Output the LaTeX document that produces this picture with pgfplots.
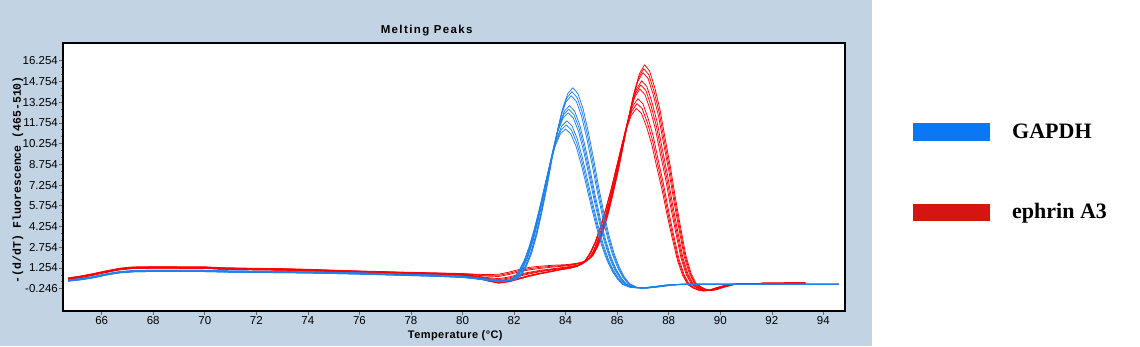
\documentclass[border=0pt]{standalone}
\usepackage{fontspec}
\setmainfont{Liberation Sans}
\newfontfamily\titlefont[LetterSpace=12]{Liberation Sans}
\newfontfamily\xlabfont[LetterSpace=4]{Liberation Sans}
\newfontfamily\ylabfont{Liberation Mono}
\newfontfamily\legfont{Liberation Serif}
\usepackage{pgfplots}
\pgfplotsset{compat=1.18}

\definecolor{panel}{RGB}{194,212,228}
\definecolor{gline}{RGB}{28,128,240}
\definecolor{rline}{RGB}{255,0,0}
\definecolor{gleg}{RGB}{10,120,245}
\definecolor{rleg}{RGB}{215,20,20}

\begin{document}
\begin{tikzpicture}[x=1pt,y=1pt]
\useasboundingbox (0,0) rectangle (1140,346);
\fill[panel] (0,0) rectangle (872,346);

\begin{axis}[
    at={(63pt,35pt)}, anchor=south west,
    scale only axis, width=782pt, height=268pt,
    xmin=64.5, xmax=94.84,
    ymin=-1.86, ymax=17.535,
    axis background/.style={fill=white},
    axis line style={line width=1.2pt, black},
    xtick={66,68,70,72,74,76,78,80,82,84,86,88,90,92,94},
    xticklabels={66,68,70,72,74,76,78,80,82,84,86,88,90,92,94},
    ytick={-0.246,1.254,2.754,4.254,5.754,7.254,8.754,10.254,11.754,13.254,14.754,16.254},
    yticklabels={-0.246,1.254,2.754,4.254,5.754,7.254,8.754,10.254,11.754,13.254,14.754,16.254},
    minor y tick num=2,
    tick align=outside, tick pos=left,
    major tick length=4pt, minor tick length=2.5pt,
    every tick/.style={black!60, line width=0.6pt},
    ticklabel style={font=\fontsize{11.5}{12}\selectfont, text=black},
    /pgf/number format/assume math mode=true,
    yticklabel style={inner sep=1pt},
    xticklabel style={inner sep=1.5pt},
    every axis plot/.append style={line width=0.75pt, line join=round},
]
% ephrin A3
\addplot[rline] coordinates {(64.7,0.54)(65.2,0.68)(65.7,0.86)(66.2,1.06)(66.7,1.24)(67.2,1.33)(68,1.35)(70,1.34)(70.6,1.28)(72,1.23)(73,1.21)(74,1.16)(76,1.04)(78,0.94)(79,0.90)
 (80,0.85)(80.5,0.8)(81,0.78)(81.4,0.8)(81.8,0.95)(82.2,1.15)(82.6,1.3)(83,1.38)(83.5,1.45)
 (84.06,1.5)(84.46,1.6)(84.76,1.75)(85.06,2.15)(85.26,2.85)(85.46,3.88)(85.66,5.21)(85.86,6.76)(86.06,8.42)(86.26,10.3)(86.46,12.19)(86.66,13.96)(86.86,15.29)(87.06,15.96)(87.26,15.51)(87.46,14.29)(87.66,12.74)(87.86,10.64)(88.06,8.64)(88.26,6.32)(88.46,4.21)(88.66,2.2)(88.86,0.9)(89.06,0.15)(89.26,-0.12)(89.46,-0.3)(89.66,-0.36)(89.86,-0.31)(90.16,-0.13)(90.56,0.06)(91.06,0.12)(92,0.15)(93.3,0.17)};
\addplot[rline] coordinates {(64.7,0.51)(65.2,0.65)(65.7,0.83)(66.2,1.03)(66.7,1.21)(67.2,1.30)(68,1.32)(70,1.31)(70.6,1.25)(72,1.20)(73,1.18)(74,1.13)(76,1.01)(78,0.91)(79,0.87)
 (80,0.835)(80.5,0.77)(81,0.72)(81.4,0.72)(81.8,0.865)(82.2,1.065)(82.6,1.21)(83,1.3)(83.5,1.385)
 (84.03,1.45)(84.43,1.56)(84.73,1.705)(85.03,2.1)(85.23,2.785)(85.43,3.81)(85.63,5.115)(85.83,6.64)(86.03,8.27)(86.23,10.12)(86.43,11.975)(86.63,13.715)(86.83,15.02)(87.03,15.675)(87.23,15.24)(87.43,14.04)(87.63,12.515)(87.83,10.45)(88.03,8.49)(88.23,6.205)(88.43,4.135)(88.63,2.15)(88.83,0.875)(89.03,0.135)(89.23,-0.13)(89.43,-0.305)(89.63,-0.365)(89.83,-0.315)(90.13,-0.135)(90.53,0.055)(91.03,0.12)(92,0.15)(93.3,0.17)};
\addplot[rline] coordinates {(64.7,0.51)(65.2,0.65)(65.7,0.83)(66.2,1.03)(66.7,1.21)(67.2,1.30)(68,1.32)(70,1.31)(70.6,1.25)(72,1.20)(73,1.18)(74,1.13)(76,1.01)(78,0.91)(79,0.87)
 (80,0.82)(80.5,0.74)(81,0.66)(81.4,0.64)(81.8,0.78)(82.2,0.98)(82.6,1.12)(83,1.22)(83.5,1.32)
 (84,1.4)(84.4,1.52)(84.7,1.66)(85,2.05)(85.2,2.72)(85.4,3.74)(85.6,5.02)(85.8,6.52)(86,8.12)(86.2,9.94)(86.4,11.76)(86.6,13.47)(86.8,14.75)(87,15.39)(87.2,14.97)(87.4,13.79)(87.6,12.29)(87.8,10.26)(88,8.34)(88.2,6.09)(88.4,4.06)(88.6,2.1)(88.8,0.85)(89,0.12)(89.2,-0.14)(89.4,-0.31)(89.6,-0.37)(89.8,-0.32)(90.1,-0.14)(90.5,0.05)(91,0.12)(92,0.15)(93.3,0.17)};
\addplot[rline] coordinates {(64.7,0.48)(65.2,0.62)(65.7,0.80)(66.2,1.00)(66.7,1.18)(67.2,1.27)(68,1.29)(70,1.28)(70.6,1.22)(72,1.17)(73,1.15)(74,1.10)(76,0.98)(78,0.88)(79,0.84)
 (80,0.78)(80.5,0.68)(81,0.55)(81.4,0.48)(81.8,0.6)(82.2,0.8)(82.6,0.95)(83,1.08)(83.5,1.2)
 (83.95,1.3)(84.35,1.42)(84.65,1.55)(84.95,1.95)(85.15,2.6)(85.35,3.6)(85.55,4.83)(85.75,6.27)(85.95,7.81)(86.15,9.56)(86.35,11.31)(86.55,12.95)(86.75,14.19)(86.95,14.8)(87.15,14.39)(87.35,13.26)(87.55,11.82)(87.75,9.87)(87.95,8.02)(88.15,5.86)(88.35,3.91)(88.55,2.0)(88.75,0.8)(88.95,0.1)(89.15,-0.15)(89.35,-0.32)(89.55,-0.38)(89.75,-0.33)(90.05,-0.15)(90.45,0.05)(90.95,0.12)(92,0.15)(93.3,0.17)};
\addplot[rline] coordinates {(64.7,0.46)(65.2,0.60)(65.7,0.78)(66.2,0.98)(66.7,1.16)(67.2,1.25)(68,1.27)(70,1.26)(70.6,1.20)(72,1.15)(73,1.13)(74,1.08)(76,0.96)(78,0.86)(79,0.82)
 (80,0.77)(80.5,0.65)(81,0.495)(81.4,0.41)(81.8,0.525)(82.2,0.73)(82.6,0.89)(83,1.03)(83.5,1.16)
 (83.915,1.26)(84.315,1.38)(84.615,1.515)(84.915,1.915)(85.115,2.55)(85.315,3.525)(85.515,4.73)(85.715,6.14)(85.915,7.65)(86.115,9.365)(86.315,11.08)(86.515,12.685)(86.715,13.9)(86.915,14.5)(87.115,14.095)(87.315,12.99)(87.515,11.58)(87.715,9.67)(87.915,7.855)(88.115,5.74)(88.315,3.83)(88.515,1.975)(88.715,0.79)(88.915,0.09)(89.115,-0.16)(89.315,-0.325)(89.515,-0.385)(89.715,-0.335)(90.015,-0.155)(90.415,0.045)(90.915,0.12)(92,0.15)(93.3,0.17)};
\addplot[rline] coordinates {(64.7,0.46)(65.2,0.60)(65.7,0.78)(66.2,0.98)(66.7,1.16)(67.2,1.25)(68,1.27)(70,1.26)(70.6,1.20)(72,1.15)(73,1.13)(74,1.08)(76,0.96)(78,0.86)(79,0.82)
 (80,0.76)(80.5,0.62)(81,0.44)(81.4,0.34)(81.8,0.45)(82.2,0.66)(82.6,0.83)(83,0.98)(83.5,1.12)
 (83.88,1.22)(84.28,1.34)(84.58,1.48)(84.88,1.88)(85.08,2.5)(85.28,3.45)(85.48,4.63)(85.68,6.01)(85.88,7.49)(86.08,9.17)(86.28,10.85)(86.48,12.42)(86.68,13.61)(86.88,14.2)(87.08,13.8)(87.28,12.72)(87.48,11.34)(87.68,9.47)(87.88,7.69)(88.08,5.62)(88.28,3.75)(88.48,1.95)(88.68,0.78)(88.88,0.08)(89.08,-0.17)(89.28,-0.33)(89.48,-0.39)(89.68,-0.34)(89.98,-0.16)(90.38,0.04)(90.88,0.12)(92,0.15)(93.3,0.17)};
\addplot[rline] coordinates {(64.7,0.44)(65.2,0.58)(65.7,0.76)(66.2,0.96)(66.7,1.14)(67.2,1.23)(68,1.25)(70,1.24)(70.6,1.18)(72,1.13)(73,1.11)(74,1.06)(76,0.94)(78,0.84)(79,0.80)
 (80,0.74)(80.5,0.58)(81,0.36)(81.4,0.22)(81.8,0.32)(82.2,0.52)(82.6,0.72)(83,0.88)(83.5,1.05)
 (83.8,1.15)(84.2,1.27)(84.5,1.42)(84.8,1.82)(85,2.42)(85.2,3.28)(85.4,4.41)(85.6,5.72)(85.8,7.13)(86,8.72)(86.2,10.31)(86.4,11.81)(86.6,12.94)(86.8,13.5)(87,13.13)(87.2,12.09)(87.4,10.78)(87.6,9.0)(87.8,7.31)(88,5.34)(88.2,3.56)(88.4,1.88)(88.6,0.75)(88.8,0.06)(89,-0.18)(89.2,-0.34)(89.4,-0.4)(89.6,-0.35)(89.9,-0.17)(90.3,0.04)(90.8,0.12)(92,0.15)(93.3,0.17)};
\addplot[rline] coordinates {(64.7,0.44)(65.2,0.58)(65.7,0.76)(66.2,0.96)(66.7,1.14)(67.2,1.23)(68,1.25)(70,1.24)(70.6,1.18)(72,1.13)(73,1.11)(74,1.06)(76,0.94)(78,0.84)(79,0.80)
 (80,0.73)(80.5,0.565)(81,0.33)(81.4,0.185)(81.8,0.285)(82.2,0.485)(82.6,0.685)(83,0.85)(83.5,1.025)
 (83.77,1.125)(84.17,1.245)(84.47,1.39)(84.77,1.785)(84.97,2.375)(85.17,3.195)(85.37,4.295)(85.57,5.57)(85.77,6.945)(85.97,8.495)(86.17,10.045)(86.37,11.505)(86.57,12.605)(86.77,13.15)(86.97,12.79)(87.17,11.78)(87.37,10.5)(87.57,8.765)(87.77,7.12)(87.97,5.205)(88.17,3.47)(88.37,1.84)(88.57,0.735)(88.77,0.055)(88.97,-0.19)(89.17,-0.345)(89.37,-0.405)(89.57,-0.355)(89.87,-0.175)(90.27,0.035)(90.77,0.12)(92,0.15)(93.3,0.17)};
\addplot[rline] coordinates {(64.7,0.42)(65.2,0.56)(65.7,0.74)(66.2,0.94)(66.7,1.12)(67.2,1.21)(68,1.23)(70,1.22)(70.6,1.16)(72,1.11)(73,1.09)(74,1.04)(76,0.92)(78,0.82)(79,0.78)
 (80,0.72)(80.5,0.55)(81,0.3)(81.4,0.15)(81.8,0.25)(82.2,0.45)(82.6,0.65)(83,0.82)(83.5,1.0)
 (83.74,1.1)(84.14,1.22)(84.44,1.36)(84.74,1.75)(84.94,2.33)(85.14,3.11)(85.34,4.18)(85.54,5.42)(85.74,6.76)(85.94,8.27)(86.14,9.78)(86.34,11.2)(86.54,12.27)(86.74,12.8)(86.94,12.45)(87.14,11.47)(87.34,10.22)(87.54,8.53)(87.74,6.93)(87.94,5.07)(88.14,3.38)(88.34,1.8)(88.54,0.72)(88.74,0.05)(88.94,-0.2)(89.14,-0.35)(89.34,-0.41)(89.54,-0.36)(89.84,-0.18)(90.24,0.03)(90.74,0.12)(92,0.15)(93.3,0.17)};
% GAPDH
\addplot[gline] coordinates {(64.7,0.39)(65.2,0.49)(65.7,0.64)(66.2,0.84)(66.7,0.99)(67.2,1.06)(68,1.09)(70,1.08)(71,1.04)(72,1.02)(74,0.98)(76,0.90)(78,0.79)(79,0.74)(80,0.66)(80.5,0.56)(81,0.44)(81.5,0.37)
 (81.88,0.36)(82.08,0.44)(82.28,0.70)(82.48,1.38)(82.68,2.31)(82.88,3.63)(83.08,5.28)(83.28,7.15)(83.48,9.19)(83.68,11.11)(83.88,12.76)(84.08,13.86)(84.28,14.3)(84.48,13.86)(84.68,12.76)(84.88,11.11)(85.08,9.19)(85.28,7.15)(85.48,5.28)(85.68,3.63)(85.88,2.31)(86.08,1.32)(86.28,0.6)(86.48,0.12)(86.78,-0.15)(87.18,-0.2)(87.68,-0.1)(88.18,0.02)(88.68,0.07)(94.6,0.07)};
\addplot[gline] coordinates {(64.7,0.39)(65.2,0.49)(65.7,0.64)(66.2,0.84)(66.7,0.99)(67.2,1.06)(68,1.09)(70,1.08)(71,1.04)(72,1.02)(74,0.98)(76,0.90)(78,0.79)(79,0.74)(80,0.66)(80.5,0.56)(81,0.44)(81.5,0.37)
 (81.85,0.355)(82.05,0.43)(82.25,0.685)(82.45,1.35)(82.65,2.265)(82.85,3.555)(83.05,5.17)(83.25,7.005)(83.45,9.0)(83.65,10.885)(83.85,12.5)(84.05,13.575)(84.25,14.01)(84.45,13.575)(84.65,12.5)(84.85,10.885)(85.05,9.0)(85.25,7.005)(85.45,5.17)(85.65,3.555)(85.85,2.265)(86.05,1.295)(86.25,0.59)(86.45,0.115)(86.75,-0.15)(87.15,-0.2)(87.65,-0.1)(88.15,0.02)(88.65,0.07)(94.6,0.07)};
\addplot[gline] coordinates {(64.7,0.37)(65.2,0.47)(65.7,0.62)(66.2,0.82)(66.7,0.97)(67.2,1.04)(68,1.07)(70,1.06)(71,1.02)(72,1.00)(74,0.96)(76,0.88)(78,0.77)(79,0.72)(80,0.64)(80.5,0.54)(81,0.42)(81.5,0.35)
 (81.82,0.35)(82.02,0.42)(82.22,0.67)(82.42,1.32)(82.62,2.22)(82.82,3.48)(83.02,5.06)(83.22,6.86)(83.42,8.81)(83.62,10.66)(83.82,12.24)(84.02,13.29)(84.22,13.72)(84.42,13.29)(84.62,12.24)(84.82,10.66)(85.02,8.81)(85.22,6.86)(85.42,5.06)(85.62,3.48)(85.82,2.22)(86.02,1.27)(86.22,0.58)(86.42,0.11)(86.72,-0.15)(87.12,-0.2)(87.62,-0.1)(88.12,0.02)(88.62,0.07)(94.6,0.07)};
\addplot[gline] coordinates {(64.7,0.35)(65.2,0.45)(65.7,0.6)(66.2,0.8)(66.7,0.95)(67.2,1.02)(68,1.05)(70,1.04)(71,1.0)(72,0.98)(74,0.94)(76,0.86)(78,0.75)(79,0.70)(80,0.62)(80.5,0.52)(81,0.40)(81.5,0.33)
 (81.75,0.33)(81.95,0.40)(82.15,0.65)(82.35,1.25)(82.55,2.1)(82.75,3.3)(82.95,4.8)(83.15,6.5)(83.35,8.35)(83.55,10.1)(83.75,11.6)(83.95,12.6)(84.15,13.0)(84.35,12.6)(84.55,11.6)(84.75,10.1)(84.95,8.35)(85.15,6.5)(85.35,4.8)(85.55,3.3)(85.75,2.1)(85.95,1.2)(86.15,0.55)(86.35,0.1)(86.65,-0.15)(87.05,-0.2)(87.55,-0.1)(88.05,0.02)(88.55,0.07)(94.6,0.07)};
\addplot[gline] coordinates {(64.7,0.33)(65.2,0.43)(65.7,0.58)(66.2,0.78)(66.7,0.93)(67.2,1.00)(68,1.03)(70,1.02)(71,0.98)(72,0.96)(74,0.92)(76,0.84)(78,0.73)(79,0.68)(80,0.60)(80.5,0.50)(81,0.38)(81.5,0.31)
 (81.725,0.32)(81.925,0.39)(82.125,0.635)(82.325,1.225)(82.525,2.06)(82.725,3.235)(82.925,4.705)(83.125,6.37)(83.325,8.185)(83.525,9.9)(83.725,11.37)(83.925,12.35)(84.125,12.74)(84.325,12.35)(84.525,11.37)(84.725,9.9)(84.925,8.185)(85.125,6.37)(85.325,4.705)(85.525,3.235)(85.725,2.06)(85.925,1.175)(86.125,0.54)(86.325,0.095)(86.625,-0.15)(87.025,-0.2)(87.525,-0.1)(88.025,0.02)(88.525,0.07)(94.6,0.07)};
\addplot[gline] coordinates {(64.7,0.33)(65.2,0.43)(65.7,0.58)(66.2,0.78)(66.7,0.93)(67.2,1.00)(68,1.03)(70,1.02)(71,0.98)(72,0.96)(74,0.92)(76,0.84)(78,0.73)(79,0.68)(80,0.60)(80.5,0.50)(81,0.38)(81.5,0.31)
 (81.7,0.31)(81.9,0.38)(82.1,0.62)(82.3,1.2)(82.5,2.02)(82.7,3.17)(82.9,4.61)(83.1,6.24)(83.3,8.02)(83.5,9.7)(83.7,11.14)(83.9,12.1)(84.1,12.48)(84.3,12.1)(84.5,11.14)(84.7,9.7)(84.9,8.02)(85.1,6.24)(85.3,4.61)(85.5,3.17)(85.7,2.02)(85.9,1.15)(86.1,0.53)(86.3,0.09)(86.6,-0.15)(87,-0.2)(87.5,-0.1)(88,0.02)(88.5,0.07)(94.6,0.07)};
\addplot[gline] coordinates {(64.7,0.32)(65.2,0.42)(65.7,0.57)(66.2,0.77)(66.7,0.92)(67.2,0.99)(68,1.02)(70,1.01)(71,0.97)(72,0.95)(74,0.91)(76,0.83)(78,0.72)(79,0.67)(80,0.59)(80.5,0.49)(81,0.37)(81.5,0.30)
 (81.65,0.30)(81.85,0.37)(82.05,0.6)(82.25,1.14)(82.45,1.92)(82.65,3.02)(82.85,4.39)(83.05,5.95)(83.25,7.64)(83.45,9.24)(83.65,10.61)(83.85,11.53)(84.05,11.9)(84.25,11.53)(84.45,10.61)(84.65,9.24)(84.85,7.64)(85.05,5.95)(85.25,4.39)(85.45,3.02)(85.65,1.92)(85.85,1.1)(86.05,0.5)(86.25,0.08)(86.55,-0.15)(86.95,-0.2)(87.45,-0.1)(87.95,0.02)(88.45,0.07)(94.6,0.07)};
\addplot[gline] coordinates {(64.7,0.30)(65.2,0.40)(65.7,0.55)(66.2,0.75)(66.7,0.90)(67.2,0.97)(68,1.00)(70,0.99)(71,0.95)(72,0.93)(74,0.89)(76,0.81)(78,0.70)(79,0.65)(80,0.57)(80.5,0.47)(81,0.35)(81.5,0.28)
 (81.625,0.29)(81.825,0.36)(82.025,0.59)(82.225,1.115)(82.425,1.875)(82.625,2.945)(82.825,4.285)(83.025,5.805)(83.225,7.45)(83.425,9.015)(83.625,10.35)(83.825,11.245)(84.025,11.605)(84.225,11.245)(84.425,10.35)(84.625,9.015)(84.825,7.45)(85.025,5.805)(85.225,4.285)(85.425,2.945)(85.625,1.875)(85.825,1.07)(86.025,0.49)(86.225,0.075)(86.525,-0.15)(86.925,-0.2)(87.425,-0.1)(87.925,0.02)(88.425,0.07)(94.6,0.07)};
\addplot[gline] coordinates {(64.7,0.30)(65.2,0.40)(65.7,0.55)(66.2,0.75)(66.7,0.90)(67.2,0.97)(68,1.00)(70,0.99)(71,0.95)(72,0.93)(74,0.89)(76,0.81)(78,0.70)(79,0.65)(80,0.57)(80.5,0.47)(81,0.35)(81.5,0.28)
 (81.6,0.28)(81.8,0.35)(82,0.58)(82.2,1.09)(82.4,1.83)(82.6,2.87)(82.8,4.18)(83,5.66)(83.2,7.26)(83.4,8.79)(83.6,10.09)(83.8,10.96)(84,11.31)(84.2,10.96)(84.4,10.09)(84.6,8.79)(84.8,7.26)(85,5.66)(85.2,4.18)(85.4,2.87)(85.6,1.83)(85.8,1.04)(86,0.48)(86.2,0.07)(86.5,-0.15)(86.9,-0.2)(87.4,-0.1)(87.9,0.02)(88.4,0.07)(94.6,0.07)};
\end{axis}

% title and axis labels
\node[anchor=base, font=\titlefont\bfseries\fontsize{11.5}{13}\selectfont] at (426.7,312.7) {Melting Peaks};
\node[anchor=base, font=\xlabfont\bfseries\fontsize{11}{13}\selectfont] at (455.3,8) {Temperature (°C)};
\node[rotate=90, anchor=center, font=\ylabfont\bfseries\fontsize{11.5}{13}\selectfont] at (18,166.3) {-(d/dT) Fluorescence (465-510)};

% legend
\fill[gleg] (913,205) rectangle (990,223);
\fill[rleg] (913,125) rectangle (990,142);
\node[anchor=base west, inner sep=0pt, font=\legfont\bfseries\fontsize{22}{24}\selectfont] at (1012,207.7) {GAPDH};
\node[anchor=base west, inner sep=0pt, font=\legfont\bfseries\fontsize{22}{24}\selectfont] at (1012,127.7) {ephrin A3};
\end{tikzpicture}
\end{document}
